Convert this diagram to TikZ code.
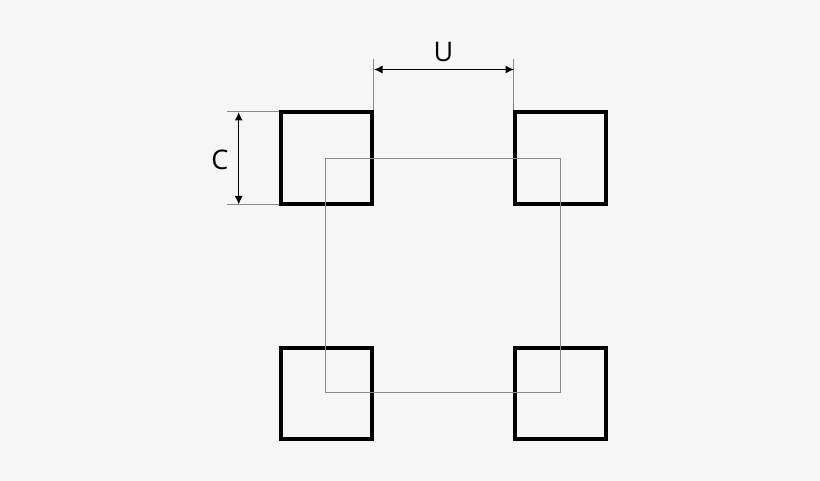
\documentclass[tikz,border=0pt]{standalone}
\usepackage{fontspec}
\setmainfont{Open Sans}
\usetikzlibrary{arrows.meta}
\definecolor{bgc}{HTML}{F6F6F6}
\definecolor{gray6}{HTML}{8A8A8A}
\tikzset{
  x=1pt,y=-1pt,
  postbox/.style={draw=black,line width=4pt,minimum width=91.2pt,minimum height=91.6pt,inner sep=0pt,outer sep=0pt},
  thinline/.style={draw=gray6,line width=1.2pt},
  dimline/.style={draw=black,line width=1.2pt,{Latex[length=8.5pt,width=8pt]}-{Latex[length=8.5pt,width=8pt]}},
  dimtext/.style={font=\fontsize{27}{27}\selectfont,text=black,inner sep=0pt}
}
\begin{document}
\begin{tikzpicture}
\useasboundingbox (0,0) rectangle (820,481);
\fill[bgc] (0,0) rectangle (820,481);
\node[postbox] (tl) at (326.4,158) {};
\node[postbox] (tr) at (560.6,158) {};
\node[postbox] (bl) at (326.4,393.4) {};
\node[postbox] (br) at (560.6,393.4) {};
\coordinate (ga) at (325.5,158.5);
\coordinate (gb) at (560.5,392.5);
\draw[thinline] (ga) rectangle (gb);
\coordinate (ua) at (373.5,59);
\coordinate (ub) at (373.5,110);
\coordinate (uc) at (513.5,59);
\coordinate (ud) at (513.5,110);
\draw[thinline] (ua) -- (ub);
\draw[thinline] (uc) -- (ud);
\coordinate (ca) at (227,111.3);
\coordinate (cb) at (279,111.3);
\coordinate (cc) at (227,204.5);
\coordinate (cd) at (279,204.5);
\draw[thinline] (ca) -- (cb);
\draw[thinline] (cc) -- (cd);
\coordinate (ul) at (374,69.5);
\coordinate (ur) at (514,69.5);
\draw[dimline] (ul) -- (ur);
\coordinate (ct) at (238.7,112);
\coordinate (cm) at (238.7,204.5);
\draw[dimline] (ct) -- (cm);
\node[dimtext] (ulabel) at (443.5,52) {U};
\node[dimtext] (clabel) at (220,160) {C};
\end{tikzpicture}
\end{document}
